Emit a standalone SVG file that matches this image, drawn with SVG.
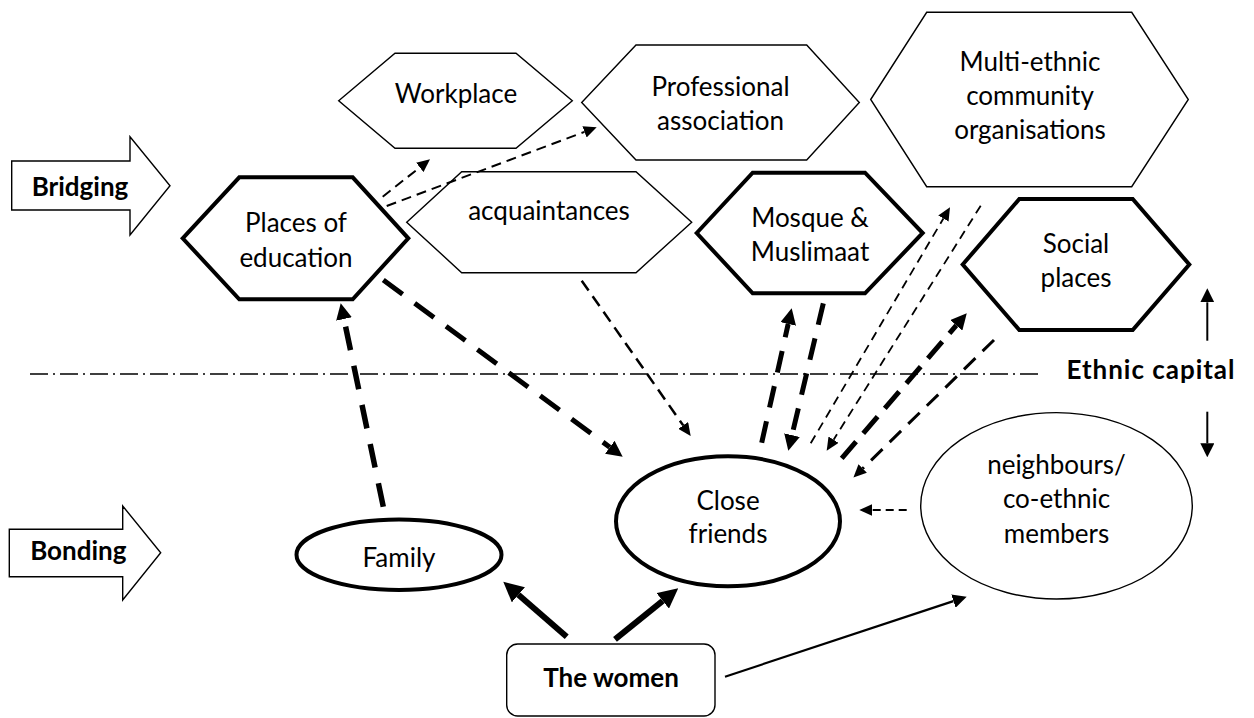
<svg xmlns="http://www.w3.org/2000/svg" width="1254" height="718" viewBox="0 0 1254 718">
<defs>
<style>
.bg{fill:#fff}
.thin{fill:#fff;stroke:#000;stroke-width:1.4}
.thick{fill:#fff;stroke:#000;stroke-width:4}
.lbl{font-family:Lato,"Open Sans",sans-serif;font-size:26px;fill:#000;text-anchor:middle}
.b{font-weight:bold}
.c{fill:none;stroke:#000;stroke-linecap:butt}
</style>
<marker id="aL" markerUnits="userSpaceOnUse" markerWidth="20" markerHeight="20" refX="0" refY="10" orient="auto"><path d="M0,0 L20,10 L0,20 Z" fill="#000"/></marker>
<marker id="aM" markerUnits="userSpaceOnUse" markerWidth="16" markerHeight="16" refX="0" refY="8" orient="auto"><path d="M0,0 L16,8 L0,16 Z" fill="#000"/></marker>
<marker id="aS" markerUnits="userSpaceOnUse" markerWidth="13" markerHeight="12" refX="0" refY="6" orient="auto"><path d="M0,0 L13,6 L0,12 Z" fill="#000"/></marker>
<marker id="aT" markerUnits="userSpaceOnUse" markerWidth="14" markerHeight="14" refX="0" refY="7" orient="auto"><path d="M0,0 L14,7 L0,14 Z" fill="#000"/></marker>
</defs>
<rect class="bg" x="0" y="0" width="1254" height="718"/>

<g id="bridging">
<polygon class="thin" points="11.7,161 130,161 130,136.7 170,185.8 130,235 130,210 11.7,210"/>
<text class="lbl b" x="80" y="196">Bridging</text>
</g>
<g id="bonding">
<polygon class="thin" points="9.3,529.3 122.7,529.3 122.7,506 160.7,552.7 122.7,600 122.7,576.7 9.3,576.7"/>
<text class="lbl b" x="78.3" y="560">Bonding</text>
</g>

<line id="ethnic-divider" x1="30" y1="374" x2="1042" y2="374" stroke="#000" stroke-width="1.4" stroke-dasharray="18 5 2 5"/>

<g id="workplace">
<polygon class="thin" points="338.7,100.7 395,53.3 516,53.3 572.3,100.7 516,148.3 395,148.3"/>
<text class="lbl" x="456" y="103">Workplace</text>
</g>
<g id="professional">
<polygon class="thin" points="581.7,102.5 636,45 806.7,45 859.3,102.5 806.7,160 636,160"/>
<text class="lbl" x="720.5" y="96">Professional</text>
<text class="lbl" x="720.5" y="130">association</text>
</g>
<g id="multiethnic">
<polygon class="thin" points="870.7,99.5 926.7,12.3 1131.7,12.3 1188.3,99.5 1131.7,186.7 926.7,186.7"/>
<text class="lbl" x="1030" y="70.7">Multi-ethnic</text>
<text class="lbl" x="1030" y="105">community</text>
<text class="lbl" x="1030" y="139.3">organisations</text>
</g>
<g id="education">
<polygon class="thick" points="182.7,238.3 239.3,177.3 352.7,177.3 408.3,238.3 352.7,299.3 239.3,299.3"/>
<text class="lbl" x="296" y="232">Places of</text>
<text class="lbl" x="296" y="266.5">education</text>
</g>
<g id="acquaintances">
<polygon class="thin" points="406.7,222.2 461.7,171.7 636,171.7 691.7,222.2 636,272.7 461.7,272.7"/>
<text class="lbl" x="549" y="220">acquaintances</text>
</g>
<g id="mosque">
<polygon class="thick" points="696.7,233 752.7,172.7 865,172.7 922.7,233 865,293.3 752.7,293.3"/>
<text class="lbl" x="810" y="226.7">Mosque &amp;</text>
<text class="lbl" x="810" y="260.5">Muslimaat</text>
</g>
<g id="social">
<polygon class="thick" points="962.7,264.5 1019.3,199 1132.7,199 1189.3,264.5 1132.7,330 1019.3,330"/>
<text class="lbl" x="1076" y="253.3">Social</text>
<text class="lbl" x="1076" y="287.3">places</text>
</g>
<g id="ethnic-capital">
<text class="lbl b" x="1150.5" y="379.3" font-size="27" textLength="168" lengthAdjust="spacing">Ethnic capital</text>
</g>
<g id="family">
<ellipse class="thick" cx="399" cy="554.7" rx="102.5" ry="35.3"/>
<text class="lbl" x="399" y="566.7">Family</text>
</g>
<g id="close-friends">
<ellipse class="thick" cx="728" cy="521.3" rx="112" ry="65"/>
<text class="lbl" x="728" y="510">Close</text>
<text class="lbl" x="728" y="543.3">friends</text>
</g>
<g id="neighbours">
<ellipse class="thin" cx="1056.5" cy="505.8" rx="135.8" ry="93.2"/>
<text class="lbl" x="1056.5" y="474">neighbours/</text>
<text class="lbl" x="1056.5" y="508.3">co-ethnic</text>
<text class="lbl" x="1056.5" y="542.7">members</text>
</g>
<g id="women">
<rect class="thin" x="506.7" y="644" width="208.3" height="72" rx="11"/>
<text class="lbl b" x="611" y="686.7">The women</text>
</g>

<g id="connectors">
<line class="c" x1="566.7" y1="636.7" x2="518.4" y2="594.8" stroke-width="6" marker-end="url(#aL)"/>
<line class="c" x1="615" y1="639.3" x2="662.7" y2="600.8" stroke-width="6" marker-end="url(#aL)"/>
<line class="c" x1="725" y1="676.7" x2="953.4" y2="601.1" stroke-width="2.2" marker-end="url(#aT)"/>
<line class="c" x1="906.7" y1="510" x2="872.3" y2="510" stroke-width="2" stroke-dasharray="8 5" marker-end="url(#aS)"/>
<line class="c" x1="383.3" y1="506.7" x2="344" y2="319" stroke-width="5.5" stroke-dasharray="24 16" marker-end="url(#aM)"/>
<line class="c" x1="383.3" y1="280" x2="609.8" y2="447.2" stroke-width="5" stroke-dasharray="24 15" marker-end="url(#aM)"/>
<line class="c" x1="581.7" y1="280.7" x2="683.2" y2="425.4" stroke-width="2.5" stroke-dasharray="12 7" marker-end="url(#aS)"/>
<line class="c" x1="382.7" y1="196.7" x2="419.8" y2="167.4" stroke-width="2" stroke-dasharray="10 6" marker-end="url(#aS)"/>
<line class="c" x1="386.7" y1="206" x2="584.5" y2="131.9" stroke-width="2" stroke-dasharray="10 6" marker-end="url(#aS)"/>
<line class="c" x1="761.7" y1="442.7" x2="788.2" y2="323.9" stroke-width="5" stroke-dasharray="22 14" marker-end="url(#aM)"/>
<line class="c" x1="823.3" y1="303.3" x2="792" y2="435.1" stroke-width="5" stroke-dasharray="22 14" marker-end="url(#aM)"/>
<line class="c" x1="810.7" y1="443.3" x2="943.4" y2="218.5" stroke-width="1.8" stroke-dasharray="9 6" marker-end="url(#aS)"/>
<line class="c" x1="980.7" y1="205.7" x2="833.6" y2="439.7" stroke-width="1.8" stroke-dasharray="9 6" marker-end="url(#aS)"/>
<line class="c" x1="841.7" y1="458.3" x2="956.3" y2="325.4" stroke-width="5" stroke-dasharray="22 11" marker-end="url(#aM)"/>
<line class="c" x1="994" y1="340" x2="862.7" y2="468.5" stroke-width="3" stroke-dasharray="16 10" marker-end="url(#aS)"/>
<line class="c" x1="1207.3" y1="340.7" x2="1207.3" y2="302.3" stroke-width="2" marker-end="url(#aT)"/>
<line class="c" x1="1207.3" y1="411.7" x2="1207.3" y2="443.3" stroke-width="2" marker-end="url(#aT)"/>
</g>
</svg>
